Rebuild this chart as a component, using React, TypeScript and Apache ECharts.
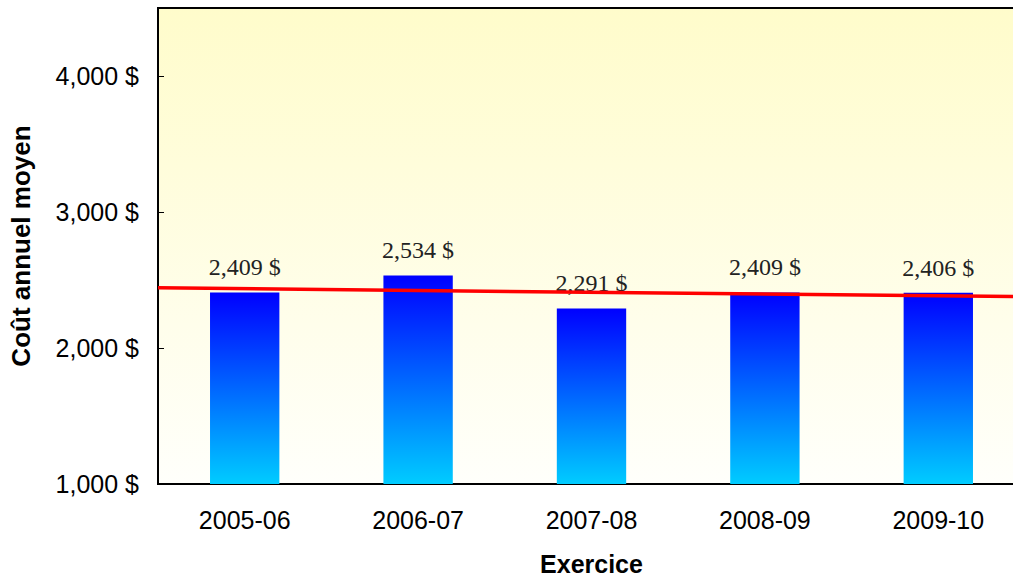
import React, { useEffect, useRef } from "react";
import * as echarts from "echarts";

const categories = ["2005-06", "2006-07", "2007-08", "2008-09", "2009-10"];
const avgCost = [2409, 2534, 2291, 2409, 2406];
const yTicks = { min: 1000, max: 4500, interval: 1000 };

const fmt = (v: number) => v.toLocaleString("en-US") + " $";

// Least-squares trend line through the yearly values, spanning the full category band
function trendEnds(values: number[]): [number, number][] {
  const n = values.length;
  const xs = values.map((_, i) => i);
  const mx = xs.reduce((a, b) => a + b, 0) / n;
  const my = values.reduce((a, b) => a + b, 0) / n;
  let num = 0;
  let den = 0;
  xs.forEach((x, i) => {
    num += (x - mx) * (values[i] - my);
    den += (x - mx) * (x - mx);
  });
  const slope = num / den;
  const at = (x: number) => my + slope * (x - mx);
  return [
    [-0.5, at(-0.5)],
    [n - 0.5, at(n - 0.5)],
  ];
}

export default function App() {
  const ref = useRef<HTMLDivElement>(null);

  useEffect(() => {
    if (!ref.current) return;
    const chart = echarts.init(ref.current, null, { renderer: "svg" });
    chart.setOption({
      animation: false,
      grid: {
        left: 158,
        top: 8,
        width: 867,
        height: 476,
        outerBoundsMode: "none",
        containLabel: false,
        show: true,
        borderColor: "#000",
        borderWidth: 2,
        backgroundColor: new echarts.graphic.LinearGradient(0, 0, 0, 1, [
          { offset: 0, color: "#fffccb" },
          { offset: 1, color: "#fffffb" },
        ]),
      },
      xAxis: [
        {
          type: "category",
          data: categories,
          name: "Exercice",
          nameLocation: "middle",
          nameGap: 68,
          nameTextStyle: {
            fontFamily: "Liberation Sans",
            fontSize: 25,
            fontWeight: "bold",
            color: "#000",
            lineHeight: 24,
          },
          axisLine: { lineStyle: { color: "#000", width: 2 } },
          axisTick: { inside: true, length: 7, lineStyle: { color: "#000" } },
          axisLabel: { fontFamily: "Liberation Sans", fontSize: 25, color: "#000", margin: 23 },
        },
        {
          type: "value",
          min: -0.5,
          max: categories.length - 0.5,
          show: false,
        },
      ],
      yAxis: {
        type: "value",
        min: yTicks.min,
        max: yTicks.max,
        interval: yTicks.interval,
        name: "Coût annuel moyen",
        nameLocation: "middle",
        nameGap: 124,
        nameTextStyle: { fontFamily: "Liberation Sans", fontSize: 26, fontWeight: "bold", color: "#000" },
        axisLine: { show: true, onZero: false, lineStyle: { color: "#000", width: 2 } },
        axisTick: { show: true, inside: true, length: 6, lineStyle: { color: "#000" } },
        splitLine: { show: false },
        axisLabel: {
          fontFamily: "Liberation Sans",
          fontSize: 25,
          color: "#000",
          margin: 19,
          formatter: (v: number) => (v > 4000 ? "" : fmt(v)),
        },
      },
      series: [
        {
          type: "bar",
          data: avgCost,
          barWidth: "40%",
          itemStyle: {
            color: new echarts.graphic.LinearGradient(0, 0, 0, 1, [
              { offset: 0, color: "#0000ff" },
              { offset: 1, color: "#00ccff" },
            ]),
          },
          label: {
            show: true,
            position: "top",
            distance: 13,
            fontFamily: "Liberation Serif",
            fontSize: 24,
            color: "#222",
            formatter: (p: any) => fmt(p.value),
          },
        },
        {
          type: "line",
          xAxisIndex: 1,
          data: trendEnds(avgCost),
          symbol: "none",
          lineStyle: { color: "#ff0000", width: 3.5 },
          z: 5,
        },
      ],
    });
    return () => chart.dispose();
  }, []);

  return (
    <div
      ref={ref}
      style={{ position: "absolute", left: 0, top: 0, width: 1013, height: 579 }}
    />
  );
}
